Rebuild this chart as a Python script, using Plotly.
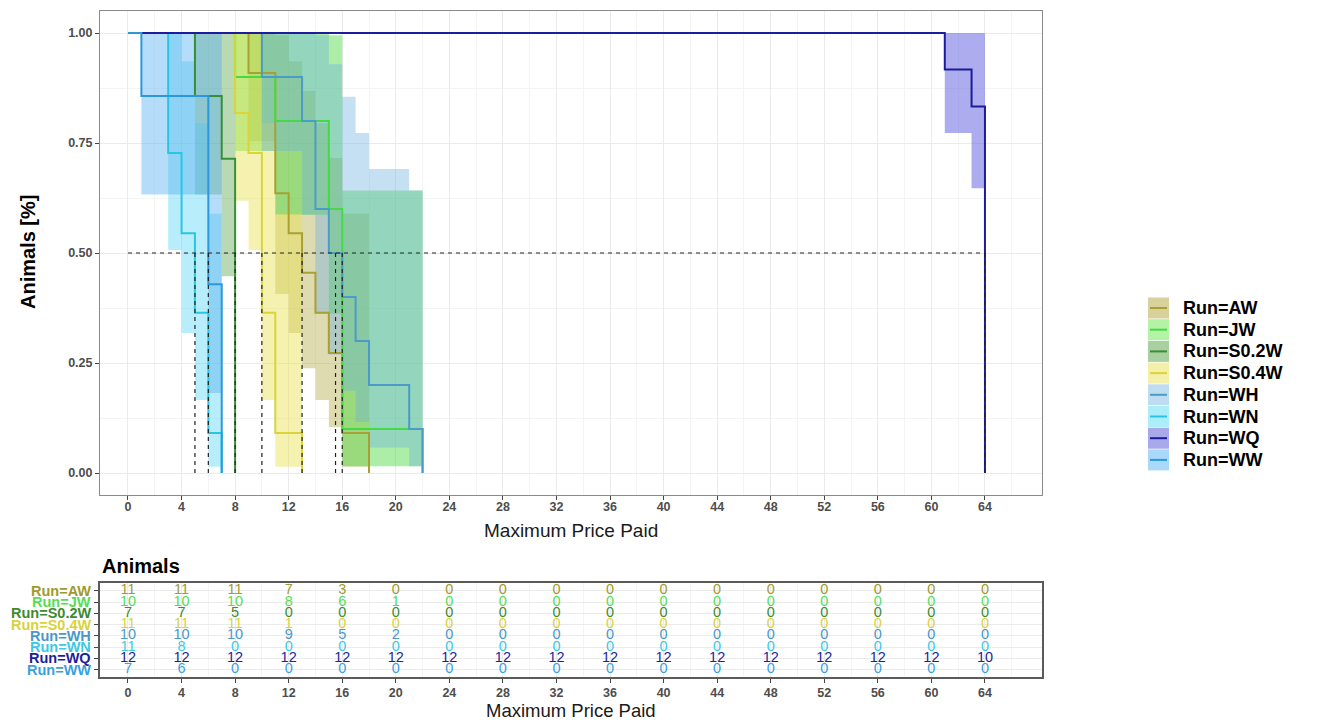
import plotly.graph_objects as go

W, H = 1317, 722
OX, OY = 0, 0
FONT = "Liberation Sans, Arial, sans-serif"

groups = ["AW", "JW", "S0.2W", "S0.4W", "WH", "WN", "WQ", "WW"]

# Kaplan-Meier step data (time of each step, survival after it)
times = {
    "AW":    [0, 9, 11, 12, 13, 14, 15, 16, 18],
    "JW":    [0, 8, 11, 15, 16, 22],
    "S0.2W": [0, 5, 7, 8],
    "S0.4W": [0, 8, 9, 10, 11, 13],
    "WH":    [0, 10, 13, 14, 15, 16, 17, 18, 21, 22],
    "WN":    [0, 3, 4, 5, 6, 7],
    "WQ":    [0, 61, 63, 64],
    "WW":    [0, 1, 6, 7],
}
surv = {
    "AW":    [1, 0.909, 0.636, 0.545, 0.455, 0.364, 0.273, 0.091, 0],
    "JW":    [1, 0.9, 0.8, 0.6, 0.1, 0],
    "S0.2W": [1, 0.857, 0.714, 0],
    "S0.4W": [1, 0.818, 0.727, 0.364, 0.091, 0],
    "WH":    [1, 0.9, 0.8, 0.6, 0.5, 0.4, 0.3, 0.2, 0.1, 0],
    "WN":    [1, 0.727, 0.545, 0.364, 0.091, 0],
    "WQ":    [1, 0.917, 0.833, 0],
    "WW":    [1, 0.857, 0.429, 0],
}
lower = {
    "AW":    [1, 0.754, 0.407, 0.318, 0.238, 0.166, 0.104, 0.014],
    "JW":    [1, 0.732, 0.587, 0.362, 0.0156],
    "S0.2W": [1, 0.633, 0.447],
    "S0.4W": [1, 0.619, 0.507, 0.166, 0.014],
    "WH":    [1, 0.732, 0.587, 0.362, 0.269, 0.187, 0.116, 0.058, 0.0156],
    "WN":    [1, 0.507, 0.318, 0.166, 0.014],
    "WQ":    [1, 0.773, 0.647],
    "WW":    [1, 0.633, 0.182],
}
upper = {
    "AW":    [1, 1, 0.995, 0.936, 0.868, 0.795, 0.716, 0.589],
    "JW":    [1, 1, 1, 0.995, 0.642],
    "S0.2W": [1, 1, 1],
    "S0.4W": [1, 1, 1, 0.795, 0.589],
    "WH":    [1, 1, 1, 0.995, 0.929, 0.855, 0.773, 0.691, 0.642],
    "WN":    [1, 1, 0.936, 0.795, 0.589],
    "WQ":    [1, 1, 1],
    "WW":    [1, 1, 1],
}
medians = {"AW": 13, "JW": 16, "S0.2W": 8, "S0.4W": 10, "WH": 15.5, "WN": 5, "WQ": 64, "WW": 6}

# risk table
risk_times = list(range(0, 65, 4))
at_risk = {
    "AW":    [11, 11, 11, 7, 3, 0, 0, 0, 0, 0, 0, 0, 0, 0, 0, 0, 0],
    "JW":    [10, 10, 10, 8, 6, 1, 0, 0, 0, 0, 0, 0, 0, 0, 0, 0, 0],
    "S0.2W": [7, 7, 5, 0, 0, 0, 0, 0, 0, 0, 0, 0, 0, 0, 0, 0, 0],
    "S0.4W": [11, 11, 11, 1, 0, 0, 0, 0, 0, 0, 0, 0, 0, 0, 0, 0, 0],
    "WH":    [10, 10, 10, 9, 5, 2, 0, 0, 0, 0, 0, 0, 0, 0, 0, 0, 0],
    "WN":    [11, 8, 0, 0, 0, 0, 0, 0, 0, 0, 0, 0, 0, 0, 0, 0, 0],
    "WQ":    [12, 12, 12, 12, 12, 12, 12, 12, 12, 12, 12, 12, 12, 12, 12, 12, 10],
    "WW":    [7, 6, 0, 0, 0, 0, 0, 0, 0, 0, 0, 0, 0, 0, 0, 0, 0],
}
x_ticks = list(range(0, 65, 4))
y_ticks = [0, 0.25, 0.5, 0.75, 1.0]
y_ticklabels = ["0.00", "0.25", "0.50", "0.75", "1.00"]

line_col = {
    "AW": "#A8A035", "JW": "#45DA45", "S0.2W": "#3A8E34", "S0.4W": "#D8D43A",
    "WH": "#4C9BC6", "WN": "#28C6E4", "WQ": "#1C1C9C", "WW": "#2A98DA",
}
fill_col = {
    "AW": "rgba(175,165,60,0.40)", "JW": "rgba(70,215,60,0.45)", "S0.2W": "rgba(70,155,60,0.38)",
    "S0.4W": "rgba(232,226,80,0.45)", "WH": "rgba(110,178,222,0.40)", "WN": "rgba(85,215,245,0.42)",
    "WQ": "rgba(95,95,222,0.52)", "WW": "rgba(90,178,240,0.45)",
}
key_col = {
    "AW": "#D8D19C", "JW": "#B4F3A6", "S0.2W": "#A9D0A0", "S0.4W": "#F4F0A9",
    "WH": "#BEDDF0", "WN": "#ADEDF9", "WQ": "#A8A8EA", "WW": "#A9D8F8",
}
text_col = {
    "AW": "#A09A2C", "JW": "#55DD55", "S0.2W": "#3E8A30", "S0.4W": "#D8D23C",
    "WH": "#4A98C8", "WN": "#3CC8E2", "WQ": "#1E1E9A", "WW": "#3AA0DC",
}

fig = go.Figure()

# confidence bands
for g in groups:
    t, lo, hi = times[g], lower[g], upper[g]
    k = len(lo)
    xs, ys = [], []
    for i in range(k):
        xs += [t[i], t[i + 1]]
        ys += [hi[i], hi[i]]
    for i in reversed(range(k)):
        xs += [t[i + 1], t[i]]
        ys += [lo[i], lo[i]]
    fig.add_trace(go.Scatter(x=xs, y=ys, fill="toself", fillcolor=fill_col[g], mode="none",
                             line=dict(width=0), hoverinfo="skip", showlegend=False,
                             xaxis="x", yaxis="y"))

# survival curves
for g in groups:
    fig.add_trace(go.Scatter(x=times[g], y=surv[g], mode="lines", line_shape="hv",
                             line=dict(color=line_col[g], width=2), showlegend=False,
                             xaxis="x", yaxis="y"))

# median lines
mx = max(medians.values())
fig.add_trace(go.Scatter(x=[0, mx], y=[0.5, 0.5], mode="lines",
                         line=dict(color="#222222", width=1, dash="4px,4px"), showlegend=False))
for g in groups:
    m = medians[g]
    fig.add_trace(go.Scatter(x=[m, m], y=[0, 0.5], mode="lines",
                             line=dict(color="#222222", width=1.2, dash="4px,4px"), showlegend=False))

# risk table
nrow = len(groups)
for j, g in enumerate(groups):
    fig.add_trace(go.Scatter(x=risk_times, y=[nrow - j] * len(risk_times), mode="text",
                             text=[str(v) for v in at_risk[g]],
                             textfont=dict(family=FONT, size=14.5, color=text_col[g]),
                             showlegend=False, xaxis="x2", yaxis="y2"))

def px(x):
    return (x - OX) / W

def py(y):
    return 1 - (y - OY) / H

xr = [-2.09, 68.26]
grid = "#EBEBEB"
minor_x = list(range(2, 67, 4))
axis_common = dict(range=xr, tickmode="array", tickvals=x_ticks, ticktext=[str(v) for v in x_ticks],
                   tickfont=dict(family=FONT, size=12.5, color="#4D4D4D", weight="bold"),
                   showgrid=True, gridcolor=grid, gridwidth=1, zeroline=False,
                   minor=dict(tickmode="array", tickvals=minor_x, showgrid=True, gridcolor="#F4F4F4", gridwidth=1, ticks=""),
                   ticks="outside", ticklen=4, tickcolor="#444", showline=True, mirror=True)

fig.update_layout(
    width=W, height=H, margin=dict(l=0, r=0, t=0, b=0),
    paper_bgcolor="white", plot_bgcolor="white", showlegend=False,
    xaxis=dict(domain=[px(100), px(1042)], anchor="y", linecolor="#8A8A8A", linewidth=1,
               ticklabelstandoff=-4, **axis_common),
    yaxis=dict(domain=[py(495), py(11)], anchor="x", range=[-0.05, 1.05],
               tickmode="array", tickvals=y_ticks, ticktext=y_ticklabels,
               tickfont=dict(family=FONT, size=12.5, color="#4D4D4D", weight="bold"),
               showgrid=True, gridcolor=grid, zeroline=False,
               minor=dict(tickmode="array", tickvals=[0.125, 0.375, 0.625, 0.875], showgrid=True,
                          gridcolor="#F4F4F4", ticks=""),
               ticks="outside", ticklen=4, tickcolor="#444", showline=True, mirror=True,
               linecolor="#8A8A8A", linewidth=1),
    xaxis2=dict(domain=[px(100), px(1042)], anchor="y2", linecolor="#5A5A5A", linewidth=1.5,
                ticklabelstandoff=-1, **axis_common),
    yaxis2=dict(domain=[py(677), py(583)], anchor="x2", range=[0.34, 8.69],
                tickmode="array", tickvals=list(range(1, nrow + 1)), ticktext=[""] * nrow,
                showgrid=True, gridcolor=grid, zeroline=False, ticks="outside", ticklen=4,
                tickcolor="#444", showline=True, mirror=True, linecolor="#5A5A5A", linewidth=1.5),
)

ann = []
def add_text(text, x, y, size, color="black", xanchor="center", angle=0, yref="paper"):
    ann.append(dict(text=text, x=x, y=y, xref="paper", yref=yref, xanchor=xanchor, yanchor="middle",
                    textangle=angle, showarrow=False, font=dict(family=FONT, size=size, color=color)))

add_text("<b>Animals [%]</b>", px(28), py(252), 20, angle=-90)
add_text("Maximum Price Paid", px(571), py(530), 19, color="#1a1a1a")
add_text("<b>Animals</b>", px(100), py(566), 20, xanchor="left")
add_text("Maximum Price Paid", px(571), py(710), 18.5, color="#1a1a1a")
for j, g in enumerate(groups):
    add_text("<b>Run=%s</b>" % g, px(93), nrow - j, 14.5, color=text_col[g], xanchor="right", yref="y2")

# legend drawn by hand
shapes = []
row0, step = 308, 21.7
for j, g in enumerate(groups):
    c = row0 + j * step
    shapes.append(dict(type="rect", xref="paper", yref="paper", x0=px(1148), x1=px(1169),
                       y0=py(c + 10.5), y1=py(c - 10.5), fillcolor=key_col[g], line=dict(width=0)))
    shapes.append(dict(type="line", xref="paper", yref="paper", x0=px(1150), x1=px(1167),
                       y0=py(c), y1=py(c), line=dict(color=line_col[g], width=2)))
    add_text("<b>Run=%s</b>" % g, px(1181), py(c), 18, xanchor="left")

fig.update_layout(annotations=ann, shapes=shapes)
fig.write_html("out.html", config={"displayModeBar": False},
               post_script="document.body.style.margin='0';document.body.style.overflow='hidden';")
